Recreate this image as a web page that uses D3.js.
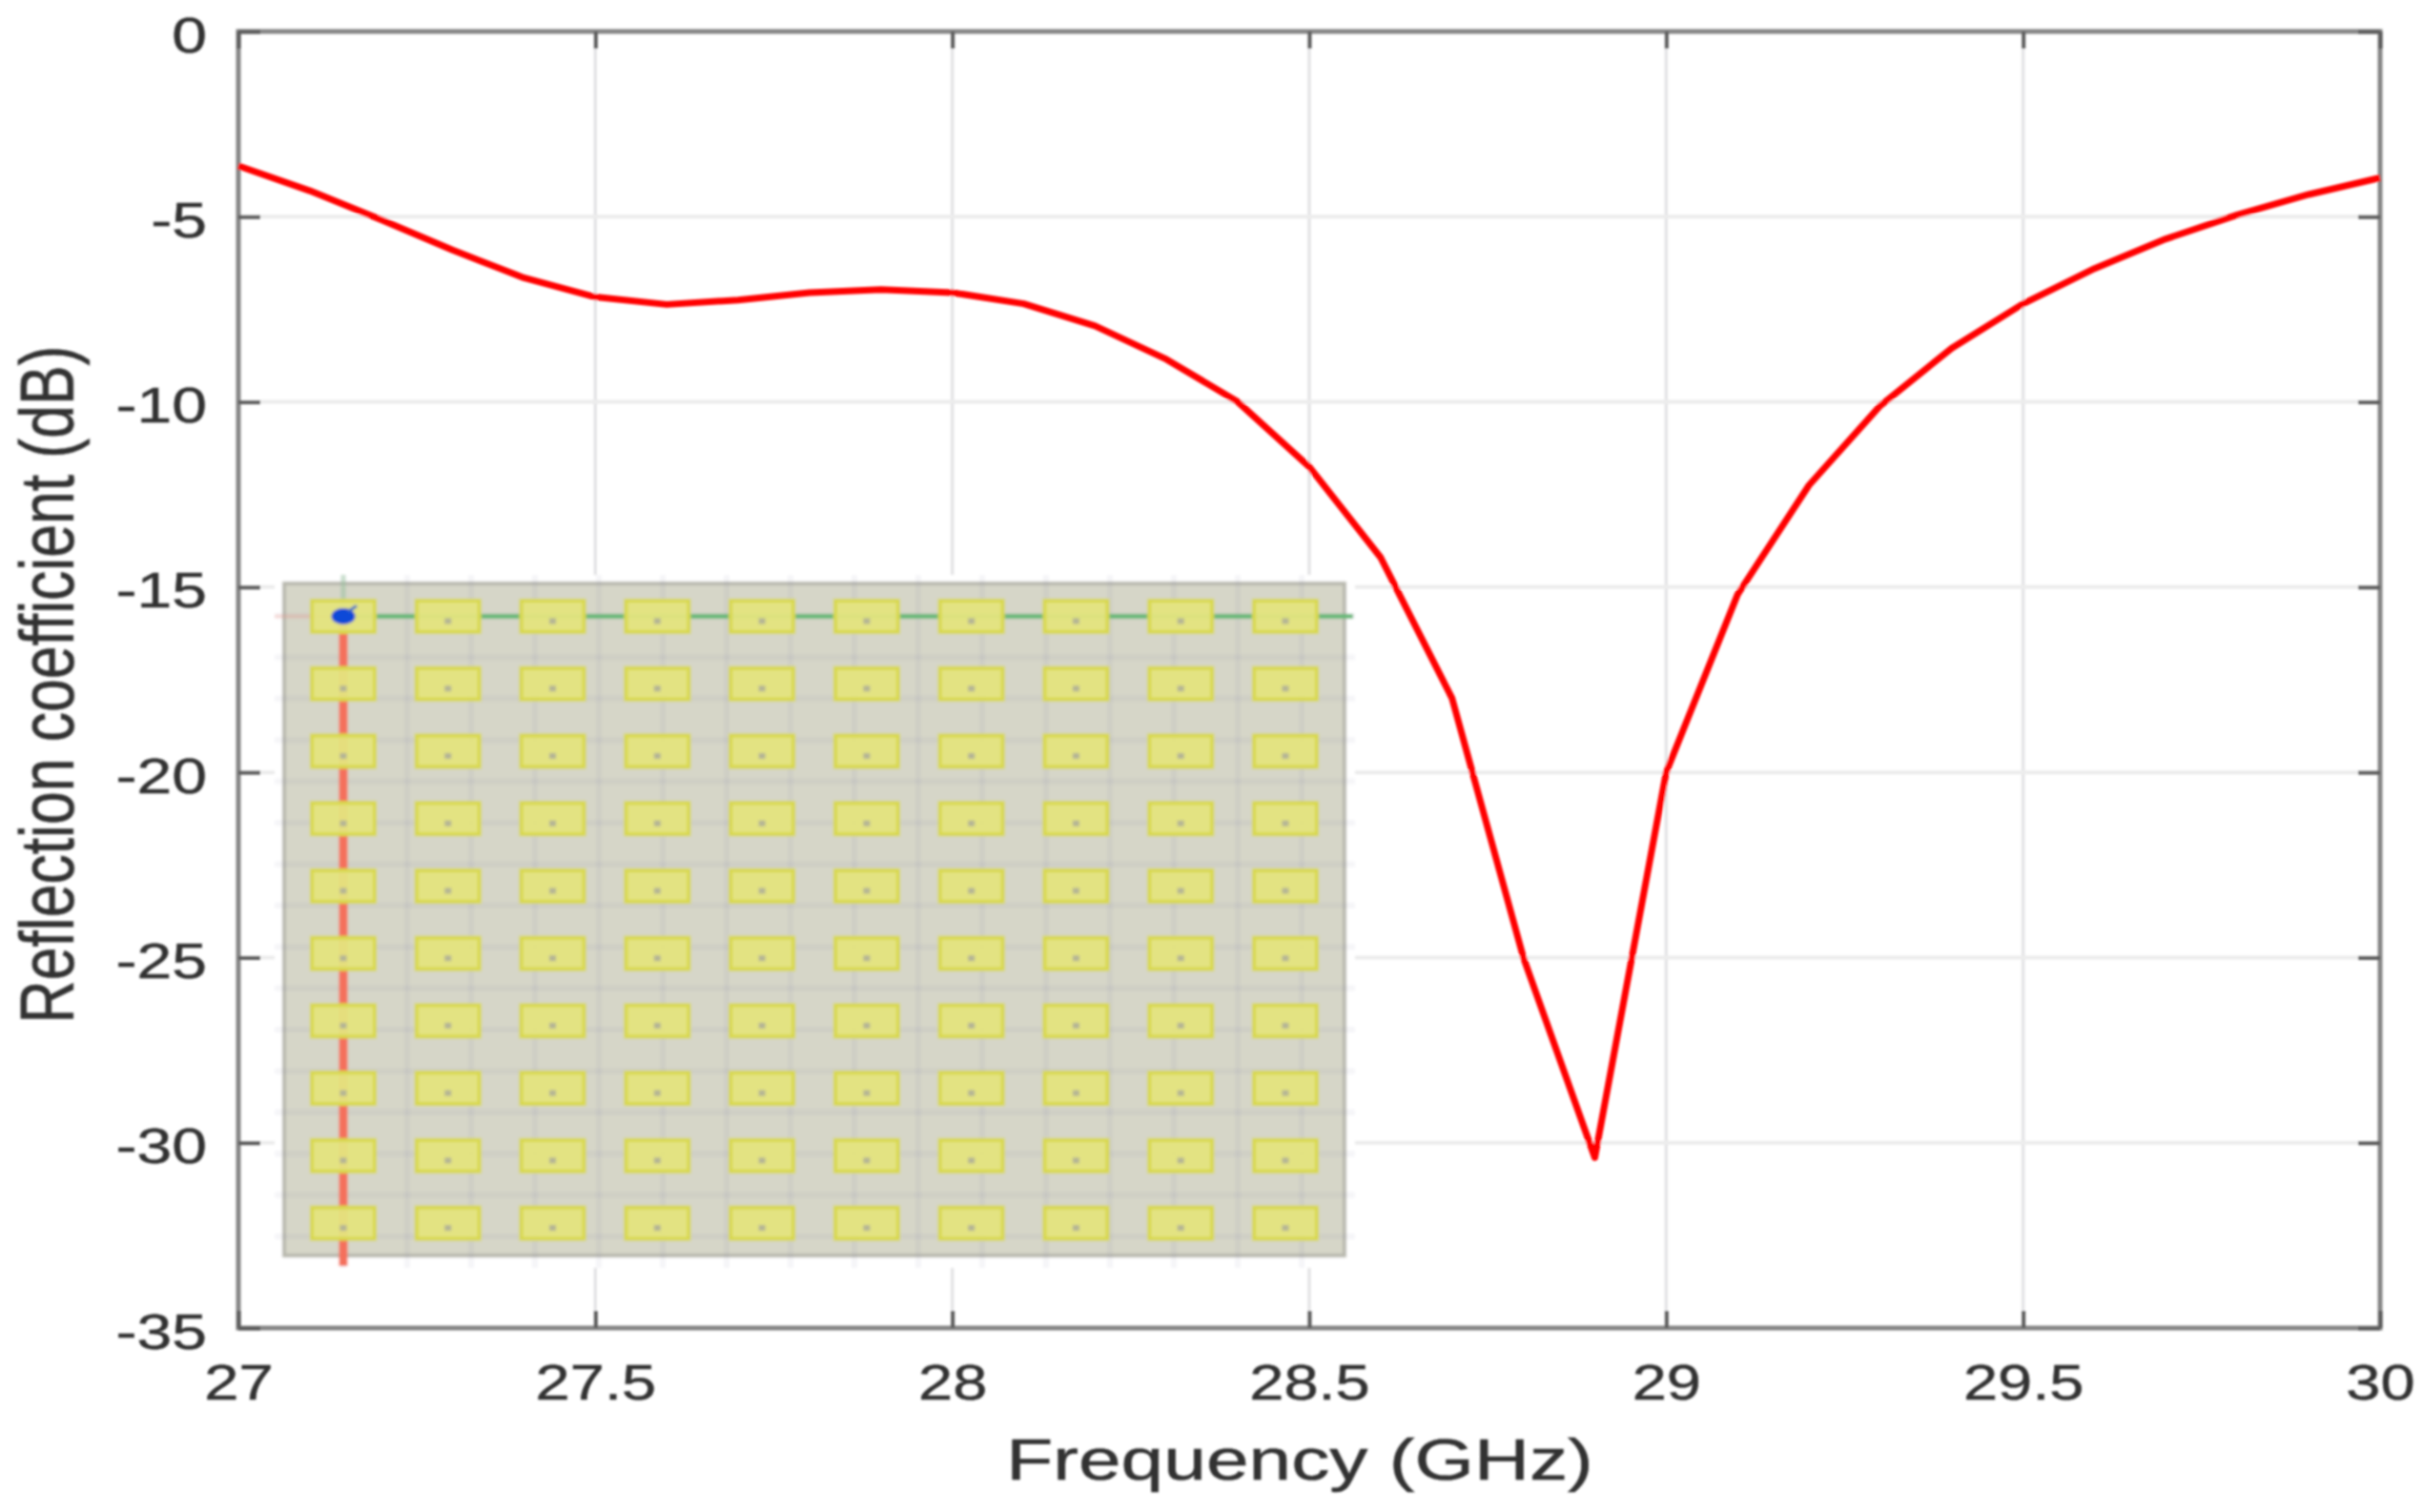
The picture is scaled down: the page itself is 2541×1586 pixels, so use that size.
<!DOCTYPE html>
<html>
<head>
<meta charset="utf-8">
<script src="https://cdn.jsdelivr.net/npm/d3@7"></script>
<style>
html,body{margin:0;padding:0;background:#fff;}
svg{display:block;}
text{font-family:"Liberation Sans",Arial,sans-serif;fill:#333;stroke:#333;stroke-width:0.5;}
</style>
</head>
<body>
<div id="chart"></div>
<script>
// reflection coefficient
var frequency = [27,27.1,27.2,27.3,27.4,27.5,27.6,27.7,27.8,27.9,28,28.1,28.2,28.3,28.4,28.5,28.6,28.7,28.8,28.9,29,29.1,29.2,29.3,29.4,29.5,29.6,29.7,29.8,29.9,30];
var reflection = [-3.63,-4.3,-5.08,-5.9,-6.65,-7.17,-7.37,-7.25,-7.05,-6.97,-7.05,-7.35,-7.95,-8.85,-10.0,-11.75,-14.2,-18.0,-25.0,-30.4,-20.0,-15.2,-12.25,-10.1,-8.55,-7.35,-6.4,-5.6,-4.95,-4.4,-3.95];
var xTicks = [27,27.5,28,28.5,29,29.5,30];
var yTicks = [0,-5,-10,-15,-20,-25,-30,-35];
var xLabel = "Frequency (GHz)";
var yLabel = "Reflection coefficient (dB)";

// inset: 10 x 10 patch array, 16 x 16 mesh lines
var patchCols = d3.range(10);
var patchRows = d3.range(10);
var meshLines = d3.range(16);

var W = 2541, H = 1586;
var left = 250, right = 2496, top_ = 33, bottom = 1393;

var svg = d3.select('#chart').append('svg').attr('width',W).attr('height',H);
var defs = svg.append('defs');
defs.append('filter').attr('id','soft').attr('filterUnits','userSpaceOnUse')
	.attr('x',0).attr('y',0).attr('width',W).attr('height',H)
	.append('feGaussianBlur').attr('stdDeviation',1.1);
defs.append('filter').attr('id','softer').attr('filterUnits','userSpaceOnUse')
	.attr('x',0).attr('y',0).attr('width',W).attr('height',H)
	.append('feGaussianBlur').attr('stdDeviation',1.8);

var root = svg.append('g').attr('filter','url(#soft)');

var x = d3.scaleLinear().domain([27,30]).range([left,right]);
var y = d3.scaleLinear().domain([0,-35]).range([top_,bottom]);

// grid
root.append('g').selectAll('line').data(xTicks.slice(1,-1)).join('line')
	.attr('x1',d=>x(d)).attr('x2',d=>x(d)).attr('y1',top_).attr('y2',bottom)
	.attr('stroke','#e4e4e6').attr('stroke-width',3.5);
root.append('g').selectAll('line').data(yTicks.slice(1,-1)).join('line')
	.attr('x1',left).attr('x2',right).attr('y1',d=>y(d)).attr('y2',d=>y(d))
	.attr('stroke','#ececec').attr('stroke-width',4);

// frame
root.append('rect').attr('x',left).attr('y',top_).attr('width',right-left).attr('height',bottom-top_)
	.attr('fill','none').attr('stroke','#868686').attr('stroke-width',5);

// axes, ticks point inwards on all four sides
function styleAxis(g){
	g.select('.domain').remove();
	g.selectAll('.tick line').attr('stroke','#5c5c5c').attr('stroke-width',4);
}
root.append('g').attr('transform','translate(0,'+bottom+')')
	.call(d3.axisBottom(x).tickValues(xTicks).tickFormat(d3.format('')).tickSize(-18))
	.call(styleAxis)
	.call(g=>g.selectAll('.tick text')
		.attr('y',0).attr('dy',0)
		.attr('transform','translate(0,75) scale(1.25,1)')
		.attr('font-size',52).attr('font-family',null).attr('fill',null));
root.append('g').attr('transform','translate(0,'+top_+')')
	.call(d3.axisTop(x).tickValues(xTicks).tickFormat('').tickSize(-18))
	.call(styleAxis);
root.append('g').attr('transform','translate('+left+',0)')
	.call(d3.axisLeft(y).tickValues(yTicks).tickFormat(d3.format('')).tickSize(-23))
	.call(styleAxis)
	.call(g=>g.selectAll('.tick text')
		.text(d=>String(d))
		.attr('x',0).attr('dy',0)
		.attr('transform','translate(-33,21) scale(1.27,1)')
		.attr('font-size',52).attr('font-family',null).attr('fill',null));
root.append('g').attr('transform','translate('+right+',0)')
	.call(d3.axisRight(y).tickValues(yTicks).tickFormat('').tickSize(-23))
	.call(styleAxis);

// titles
root.append('text').attr('text-anchor','middle').attr('font-size',62)
	.attr('transform','translate(1363,1552) scale(1.295,1)').text(xLabel);
root.append('text').attr('text-anchor','middle').attr('font-size',62.5)
	.attr('transform','translate(77,718) scale(1.28,1) rotate(-90)').text(yLabel);

// curve
var line = d3.line().x((d,i)=>x(frequency[i])).y(d=>y(d));
root.append('path').datum(reflection).attr('d',line)
	.attr('fill','none').attr('stroke','#ff0000').attr('stroke-width',7)
	.attr('stroke-linejoin','round');

// inset picture of the array
var inset = svg.append('g').attr('filter','url(#softer)');
var bx = d3.scaleLinear().domain([0,1]).range([298,1410]);
var by = d3.scaleLinear().domain([0,1]).range([612,1317]);
var haloX = [288,1421], haloY = [603,1330];
var px = d3.scalePoint().domain(patchCols).range([360,1348]);
var py = d3.scalePoint().domain(patchRows).range([646.5,1283]);
var meshX = d3.scaleLinear().domain([0,15]).range([360,1365]);
var meshY = d3.scaleLinear().domain([0,15]).range([646,1297]);

inset.append('rect').attr('x',haloX[0]).attr('y',haloY[0])
	.attr('width',haloX[1]-haloX[0]).attr('height',haloY[1]-haloY[0]).attr('fill','#fff');
inset.append('rect').attr('x',bx(0)).attr('y',by(0))
	.attr('width',bx(1)-bx(0)).attr('height',by(1)-by(0))
	.attr('fill','#d6d6c8').attr('stroke','#b8b8ae').attr('stroke-width',4);
inset.append('g').selectAll('line').data(meshLines).join('line')
	.attr('x1',d=>meshX(d)).attr('x2',d=>meshX(d)).attr('y1',haloY[0]).attr('y2',haloY[1])
	.attr('stroke','#8080a8').attr('stroke-opacity',0.08).attr('stroke-width',6);
inset.append('g').selectAll('line').data(meshLines).join('line')
	.attr('x1',haloX[0]).attr('x2',haloX[1]).attr('y1',d=>meshY(d)).attr('y2',d=>meshY(d))
	.attr('stroke','#8080a8').attr('stroke-opacity',0.08).attr('stroke-width',6);

// feed lines sit under the patches
inset.append('line').attr('x1',px(0)).attr('x2',px(0)).attr('y1',py(0)).attr('y2',1328)
	.attr('stroke','#f4705c').attr('stroke-width',9);
inset.append('line').attr('x1',px(0)).attr('x2',1419).attr('y1',py(0)).attr('y2',py(0))
	.attr('stroke','#66b878').attr('stroke-width',5);
inset.append('line').attr('x1',px(0)).attr('x2',px(0)).attr('y1',haloY[0]).attr('y2',py(0))
	.attr('stroke','#9cc8a0').attr('stroke-width',5).attr('stroke-opacity',0.5);
inset.append('line').attr('x1',haloX[0]).attr('x2',px(0)).attr('y1',py(0)).attr('y2',py(0))
	.attr('stroke','#f4a090').attr('stroke-width',4).attr('stroke-opacity',0.3);

var cells = [];
patchRows.forEach(r=>patchCols.forEach(c=>cells.push({r:r,c:c})));
inset.append('g').selectAll('rect').data(cells).join('rect')
	.attr('x',d=>px(d.c)-33).attr('y',d=>py(d.r)-16.5)
	.attr('width',66).attr('height',33)
	.attr('fill','#e4e47e').attr('fill-opacity',0.95)
	.attr('stroke','#d8d84c').attr('stroke-width',4);
inset.append('g').selectAll('rect').data(cells.filter(d=>d.r>0||d.c>0)).join('rect')
	.attr('x',d=>px(d.c)-3.5).attr('y',d=>py(d.r)+2)
	.attr('width',7).attr('height',6)
	.attr('fill','#b4b494');

// feed marker on the first element
inset.append('ellipse').attr('cx',px(0)).attr('cy',py(0))
	.attr('rx',12.5).attr('ry',8.5).attr('fill','#1048d8');
inset.append('line').attr('x1',px(0)+5).attr('x2',px(0)+14).attr('y1',py(0)-5).attr('y2',py(0)-11)
	.attr('stroke','#3068c8').attr('stroke-width',3);
</script>
</body>
</html>
